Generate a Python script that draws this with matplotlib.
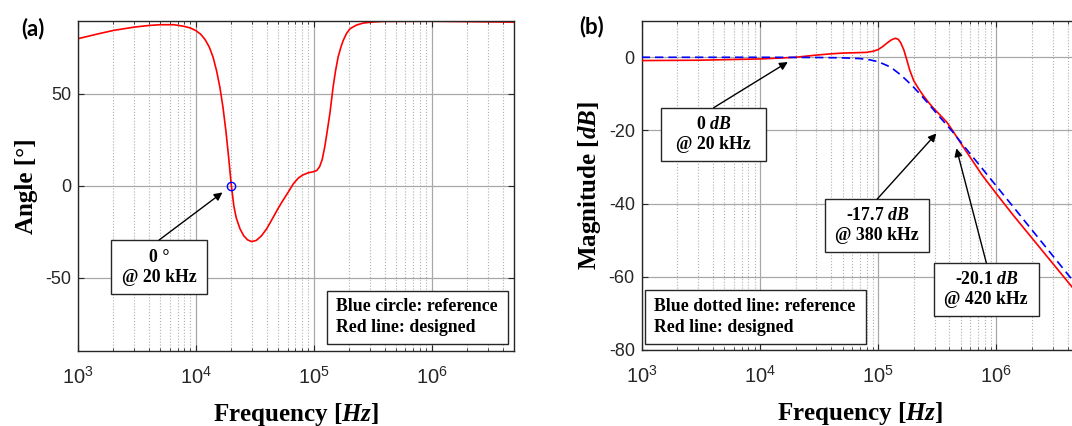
"""
Bode comparison of the designed filter against the reference response
"""

import numpy as np
import matplotlib.pyplot as plt
from matplotlib.patches import Rectangle
from matplotlib.ticker import LogLocator, NullLocator, MultipleLocator

# Phase of the designed filter
phase_freq = [1e3, 1.5e3, 2e3, 3e3, 4e3, 5e3, 6.5e3, 8e3, 9e3, 1e4, 1.1e4,
              1.2e4, 1.3e4, 1.4e4, 1.5e4, 1.6e4, 1.7e4, 1.8e4, 1.9e4, 2e4,
              2.1e4, 2.2e4, 2.37e4, 2.55e4, 2.75e4, 2.97e4, 3.25e4, 3.6e4,
              4e4, 4.5e4, 5e4, 5.5e4, 6.1e4, 6.7e4, 7.4e4, 8.1e4, 9e4, 9.9e4,
              1.06e5, 1.12e5, 1.18e5, 1.24e5, 1.3e5, 1.37e5, 1.46e5, 1.53e5,
              1.61e5, 1.7e5, 1.78e5, 1.9e5, 2.03e5, 2.3e5, 2.63e5, 3.2e5,
              3.9e5, 1e6, 5e6]
phase_deg = [80.1, 82.8, 84.6, 86.4, 87.3, 87.7, 87.7, 86.8, 85.9, 84.5, 82.5,
             79.5, 75.5, 70.0, 62.5, 53.5, 42.5, 29.5, 15.0, 0.0,
             -11.0, -17.5, -23.5, -27.3, -29.5, -30.4, -29.8, -27.3,
             -23.3, -17.5, -12.2, -7.8, -3.3, 1.0, 4.2, 5.9, 7.1, 7.6,
             8.3, 10.3, 14.3, 21.2, 29.5, 39.3, 53.8, 62.5,
             70.1, 75.5, 79.2, 83.0, 85.5, 87.5, 88.6, 89.2,
             89.5, 89.6, 89.1]

# Reference phase point
ref_phase_freq = [20e3]
ref_phase_deg = [0.0]

# Magnitude of the designed filter
mag_freq = [1e3, 3e3, 1e4, 1.5e4, 2e4, 3e4, 4e4, 5e4, 6.5e4, 8e4, 9.2e4, 1e5,
            1.1e5, 1.2e5, 1.3e5, 1.4e5, 1.48e5, 1.55e5, 1.65e5, 1.74e5,
            1.85e5, 2e5, 2.2e5, 2.4e5, 2.65e5, 2.9e5, 3.3e5, 3.8e5, 4.2e5,
            5e5, 6e5, 7.5e5, 1e6, 1.4e6, 2e6, 5e6]
mag_db = [-0.9, -0.8, -0.45, -0.2, 0.0, 0.6, 0.95, 1.15, 1.25, 1.35, 1.7, 2.1,
          3.0, 4.0, 4.8, 5.2, 4.9, 4.0, 2.0, -0.5,
          -3.5, -6.4, -8.6, -10.4, -12.2, -13.7, -15.6, -17.7, -19.7,
          -23.5, -27.3, -32.0, -37.3, -43.3, -49.4, -65.1]

# Magnitude of the reference filter
ref_mag_freq = [1e3, 1e4, 3e4, 5e4, 7e4, 8.5e4, 1e5, 1.2e5, 1.35e5, 1.55e5,
                1.74e5, 2e5, 2.4e5, 2.9e5, 3.4e5, 3.8e5, 4.2e5, 5e5, 7e5,
                1e6, 1.4e6, 2e6, 5e6]
ref_mag_db = [0.0, 0.0, -0.05, -0.15, -0.35, -0.7, -1.2, -2.3, -3.3, -4.8,
              -6.3, -8.2, -11.0, -14.1, -16.7, -18.5, -20.1, -23.2, -29.0,
              -35.2, -41.0, -47.2, -63.1]

plt.rcParams['font.family'] = 'Liberation Sans'
plt.rcParams['axes.unicode_minus'] = False
plt.rcParams['mathtext.fontset'] = 'custom'
plt.rcParams['mathtext.rm'] = 'Liberation Sans'
plt.rcParams['mathtext.it'] = 'Liberation Serif:bold:italic'
plt.rcParams['mathtext.bf'] = 'Liberation Serif:bold'

W, H = 1072, 426
fig = plt.figure(figsize=(W / 100, H / 100), dpi=100)
ax1 = fig.add_axes([78 / W, (H - 351) / H, 436 / W, 330.5 / H])
ax2 = fig.add_axes([641.7 / W, (H - 350) / H, 437.3 / W, 329.3 / H])

label_font = dict(family='Liberation Serif', fontweight='bold', fontsize=18)
box_font = dict(family='Liberation Serif', fontweight='bold', fontsize=12.8)
edge = '#262626'


def style_axes(ax):
    ax.set_xscale('log')
    ax.set_xlim(1e3, 5e6)
    ax.xaxis.set_major_locator(LogLocator(base=10, numticks=10))
    ax.xaxis.set_minor_locator(LogLocator(base=10, subs=np.arange(2, 10), numticks=20))
    ax.yaxis.set_minor_locator(NullLocator())
    ax.set_axisbelow(True)
    ax.grid(True, which='major', color='#a8a8a8', lw=0.9, ls='-')
    ax.grid(True, which='minor', axis='x', color='#b0b0b0', lw=0.8, ls=':')
    ax.tick_params(which='both', direction='in', top=True, right=True,
                   color=edge, labelcolor=edge)
    ax.tick_params(which='major', length=4)
    ax.tick_params(which='minor', length=2.5)
    ax.tick_params(axis='x', labelsize=14.5, pad=11)
    ax.tick_params(axis='y', labelsize=13, pad=5)
    for sp in ax.spines.values():
        sp.set_color(edge)
        sp.set_linewidth(1.0)
    ax.set_xlabel('Frequency [$Hz$]', labelpad=9, **label_font)


def text_box(ax, x0, y0, x1, y1, text, centered=True):
    """White framed box spanning (x0, y0)-(x1, y1) in axes fraction."""
    ax.add_patch(Rectangle((x0, y0), x1 - x0, y1 - y0, transform=ax.transAxes,
                           fc='white', ec=edge, lw=1, zorder=5))
    if centered:
        ax.text((x0 + x1) / 2, (y0 + y1) / 2, text, transform=ax.transAxes,
                ha='center', va='center', linespacing=1.25, zorder=6, **box_font)
    else:
        ax.text(x0 + 0.021, (y0 + y1) / 2, text, transform=ax.transAxes,
                ha='left', va='center', linespacing=1.3, zorder=6, **box_font)


def note(ax, x0, y0, x1, y1, text, xy, shrink):
    """Value box with an arrow from its top edge to the point xy."""
    text_box(ax, x0, y0, x1, y1, text)
    ax.annotate('', xy=xy, xytext=((x0 + x1) / 2, y1), textcoords='axes fraction',
                arrowprops=dict(arrowstyle='-|>', color='k', lw=1,
                                mutation_scale=12, shrinkA=0, shrinkB=shrink),
                zorder=6)


# (a) phase
style_axes(ax1)
ax1.set_ylim(-90, 90)
ax1.yaxis.set_major_locator(MultipleLocator(50))
ax1.plot(phase_freq, phase_deg, color='red', lw=1.2)
ax1.plot(ref_phase_freq, ref_phase_deg, 'o', mfc='none', mec='blue', ms=6, mew=1)
ax1.set_ylabel('Angle [°]', labelpad=5, **label_font)
note(ax1, 0.0766, 0.1716, 0.2956, 0.3359, '0 °\n@ 20 kHz',
     (ref_phase_freq[0], ref_phase_deg[0]), 8)
text_box(ax1, 0.5711, 0.0212, 0.9862, 0.1825,
         'Blue circle: reference\nRed line: designed', centered=False)

# (b) magnitude
style_axes(ax2)
ax2.set_ylim(-80, 10)
ax2.yaxis.set_major_locator(MultipleLocator(20))
ax2.plot(mag_freq, mag_db, color='red', lw=1.2, zorder=3)
ax2.plot(ref_mag_freq, ref_mag_db, color='blue', lw=1.2, ls=(0, (5, 3)), zorder=3)
ax2.set_ylabel('Magnitude [$dB$]', labelpad=4, **label_font)
note(ax2, 0.0450, 0.5730, 0.2842, 0.7358, '0 $dB$\n@ 20 kHz', (2e4, 0.0), 6.5)
note(ax2, 0.4192, 0.2967, 0.6581, 0.4585, '-17.7 $dB$\n@ 380 kHz', (3.8e5, -17.7), 11)
note(ax2, 0.6684, 0.1032, 0.9076, 0.2651, '-20.1 $dB$\n@ 420 kHz', (4.2e5, -20.1), 13)
text_box(ax2, 0.0075, 0.0182, 0.5138, 0.1813,
         'Blue dotted line: reference\nRed line: designed', centered=False)

fig.text(33 / W, 1 - 29 / H, '(a)', family='Lato', fontweight='bold',
         fontsize=16, ha='center', va='center')
fig.text(592 / W, 1 - 27 / H, '(b)', family='Lato', fontweight='bold',
         fontsize=16, ha='center', va='center')

fig.savefig('out.png', dpi=100)
